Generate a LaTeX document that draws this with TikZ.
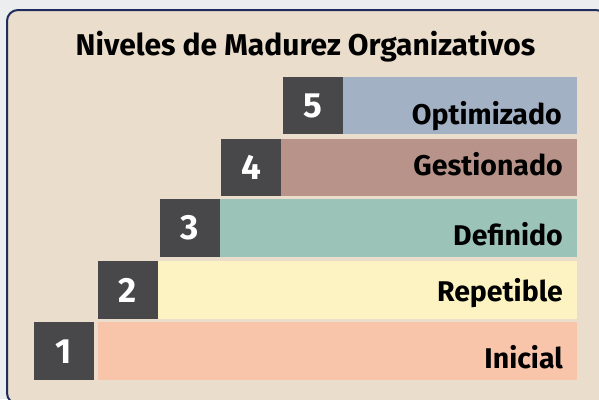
\documentclass[tikz,border=0pt]{standalone}
\usepackage{fontspec}
\setmainfont{Fira Sans}
\definecolor{outerbg}{HTML}{ECEDEF}
\definecolor{panelbg}{HTML}{EADDCB}
\definecolor{panelborder}{HTML}{1F2D5C}
\definecolor{numbox}{HTML}{48484A}
\definecolor{lvlfive}{HTML}{A3B1C5}
\definecolor{lvlfour}{HTML}{B8938A}
\definecolor{lvlthree}{HTML}{9CC3B8}
\definecolor{lvltwo}{HTML}{FDF3C2}
\definecolor{lvlone}{HTML}{F8C5AA}
\begin{document}
\begin{tikzpicture}[x=1pt,y=-1pt,
  numstyle/.style={fill=numbox,draw=none},
  numtext/.style={text=white,font=\fontsize{35}{35}\selectfont\bfseries,inner sep=0pt},
  lbltext/.style={text=black,font=\fontsize{28.5}{28.5}\selectfont\bfseries,inner sep=0pt,anchor=base east}]
\useasboundingbox (0,0) rectangle (599,399);
\fill[outerbg] (0,0) rectangle (599,399);
\begin{scope}
\clip (0,0) rectangle (599,399);
\draw[panelborder,line width=2pt,fill=panelbg,rounded corners=11pt] (7,10) rectangle (607,404);
\end{scope}
\node[font=\fontsize{30}{30}\selectfont\bfseries,anchor=base,inner sep=0pt] (title) at (305.5,55) {Niveles de Madurez Organizativos};
% level 5
\fill[lvlfive] (343,77) rectangle (577,134);
\fill[numstyle] (283,77) rectangle (343,134);
\node[numtext] (n5) at (313,106) {5};
\node[lbltext] (l5) at (562,124) {Optimizado};
% level 4
\fill[lvlfour] (281,139) rectangle (577,196);
\fill[numstyle] (221,139) rectangle (281,196);
\node[numtext] (n4) at (251,167.5) {4};
\node[lbltext] (l4) at (563,175) {Gestionado};
% level 3
\fill[lvlthree] (220,199) rectangle (577,257);
\fill[numstyle] (160,199) rectangle (220,257);
\node[numtext] (n3) at (190,228) {3};
\node[lbltext] (l3) at (563,245) {Definido};
% level 2
\fill[lvltwo] (158,261) rectangle (577,319);
\fill[numstyle] (98,261) rectangle (158,319);
\node[numtext] (n2) at (128,290) {2};
\node[lbltext] (l2) at (563,301) {Repetible};
% level 1
\fill[lvlone] (98,322) rectangle (577,380);
\fill[numstyle] (34,322) rectangle (94,380);
\node[numtext] (n1) at (64,352) {1};
\node[lbltext] (l1) at (563,368) {Inicial};
\end{tikzpicture}
\end{document}
